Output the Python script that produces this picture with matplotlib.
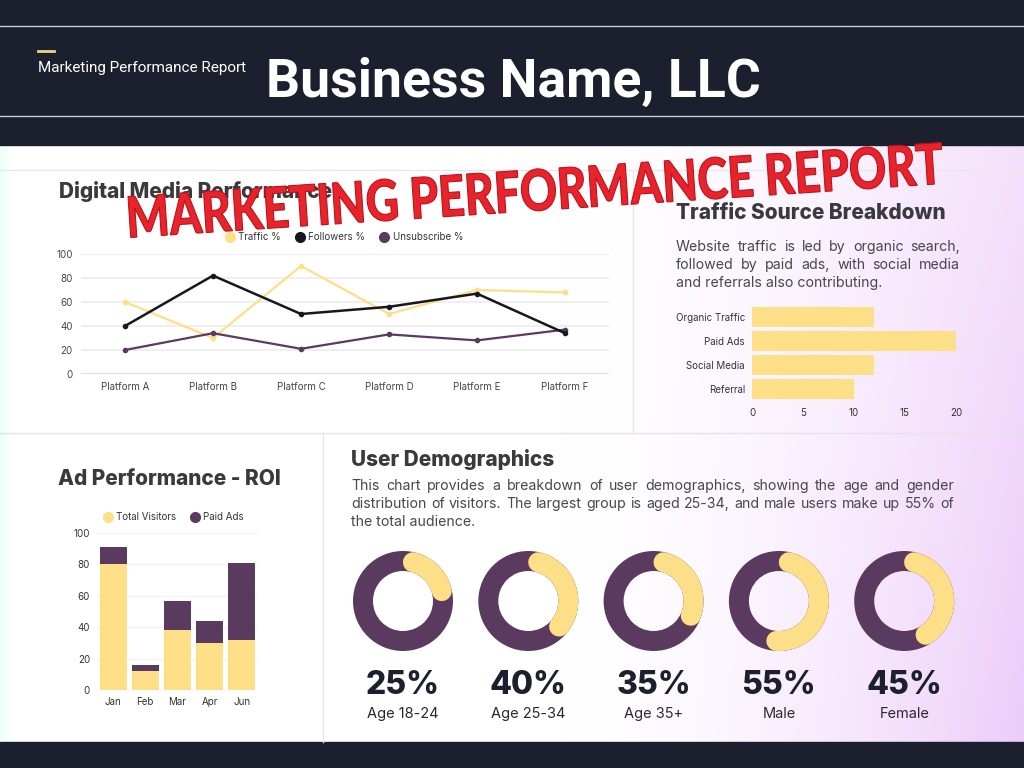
import matplotlib
matplotlib.use('Agg')
import matplotlib.pyplot as plt
from matplotlib.lines import Line2D
from matplotlib.textpath import TextPath
from matplotlib.font_manager import FontProperties
from matplotlib.patches import PathPatch
from matplotlib.transforms import Affine2D
import numpy as np

W, H = 1024, 768

# --- data ---
platforms = ['Platform A', 'Platform B', 'Platform C', 'Platform D', 'Platform E', 'Platform F']
traffic = [60, 30, 90, 50, 70, 68]
followers = [40, 82, 50, 56, 67, 34]
unsubscribe = [20, 34, 21, 33, 28, 37]

sources = ['Organic Traffic', 'Paid Ads', 'Social Media', 'Referral']
source_values = [12, 20, 12, 10]

months = ['Jan', 'Feb', 'Mar', 'Apr', 'Jun']
total_visitors = [80, 12, 38, 30, 32]
paid_ads = [11, 4, 19, 14, 49]

demo_labels = ['Age 18-24', 'Age 25-34', 'Age 35+', 'Male', 'Female']
demo_values = [25, 40, 35, 55, 45]

YELLOW = '#fcdf86'
PURPLE = '#5b3a5f'
NAVY = '#1c1f2d'
BLACK = '#17171f'
TITLE = '#3a3a3e'
TEXT = '#47474c'
FONT = 'Inter'

plt.rcParams['font.family'] = [FONT, 'DejaVu Sans']

fig = plt.figure(figsize=(W / 100, H / 100), dpi=100)


def box(x0, y0, x1, y1):
    return [x0 / W, 1 - y1 / H, (x1 - x0) / W, (y1 - y0) / H]


# background axes in pixel coords
bg = fig.add_axes([0, 0, 1, 1], zorder=-10)
bg.set_xlim(0, W)
bg.set_ylim(H, 0)
bg.axis('off')

# content gradient (white -> lavender on the right)
gx = np.linspace(0, 1, 256)
gy = np.linspace(0, 1, 64)
X, Y = np.meshgrid(gx, gy)
t = np.clip((X - 0.55) / 0.45, 0, 1) ** 1.6 * (0.6 + 0.4 * Y)
lav = np.array([0.93, 0.80, 0.98])
img = np.ones((64, 256, 3)) * (1 - t[..., None]) + lav * t[..., None]
g = np.clip(1 - X / 0.01, 0, 1)[..., None] * 0.45
img = img * (1 - g) + np.array([0.85, 1.0, 0.93]) * g
bg.imshow(img, extent=(0, W, 742, 145), aspect='auto', zorder=0)

# header and bottom band
bg.add_patch(plt.Rectangle((0, 0), W, 145, color=NAVY, zorder=1))
bg.add_patch(plt.Rectangle((0, 742), W, 26, color=NAVY, zorder=1))
bg.plot([0, W], [26, 26], color='#c9ccd4', lw=1, zorder=2)
bg.plot([0, W], [116, 116], color='#c9ccd4', lw=1, zorder=2)
bg.plot([38, 54], [51, 51], color='#e9d38c', lw=2, zorder=2)
bg.text(38, 68, 'Marketing Performance Report', color='white', fontsize=11,
        family='Roboto', va='center', ha='left', zorder=3)
bg.text(266, 82, 'Business Name, LLC', color='white', fontsize=38.5, family='Roboto',
        weight='bold', va='center', ha='left', zorder=3)

# panel dividers
bg.plot([0, W], [170, 170], color='#e8e8ea', lw=1, zorder=2)
bg.plot([0, W], [433, 433], color='#e4e4e6', lw=1, zorder=2)
bg.plot([633, 633], [170, 433], color='#e8e8ea', lw=1, zorder=2)
bg.plot([323, 323], [433, 742], color='#e8e8ea', lw=1, zorder=2)

# titles
for x, y, s in [(59, 192, 'Digital Media Performance'), (676, 213, 'Traffic Source Breakdown'),
                (58, 479, 'Ad Performance - ROI'), (351, 460, 'User Demographics')]:
    bg.text(x, y, s, color=TITLE, fontsize=15, weight=800, va='center', ha='left', zorder=3)

renderer = fig.canvas.get_renderer()


def justify(lines, x0, x1, y, dy, **kw):
    for i, line in enumerate(lines):
        yy = y + i * dy
        if i == len(lines) - 1:
            bg.text(x0, yy, line, va='center', ha='left', zorder=3, **kw)
            continue
        words = line.split()
        ts = [bg.text(0, yy, w, va='center', ha='left', zorder=3, **kw) for w in words]
        widths = [tt.get_window_extent(renderer).width for tt in ts]
        gap = (x1 - x0 - sum(widths)) / (len(words) - 1)
        x = x0
        for tt, w in zip(ts, widths):
            tt.set_x(x)
            x += w + gap


justify(['Website traffic is led by organic search,',
         'followed by paid ads, with social media',
         'and referrals also contributing.'],
        676, 960, 247, 18, fontsize=10.2, color=TEXT)
justify(['This chart provides a breakdown of user demographics, showing the age and gender',
         'distribution of visitors. The largest group is aged 25-34, and male users make up 55% of',
         'the total audience.'],
        351, 954, 486, 18, fontsize=10.2, color=TEXT)

# --- Digital Media Performance line chart ---
ax = fig.add_axes(box(81, 254, 609, 374))
x = np.arange(len(platforms))
ax.plot(x, traffic, color=YELLOW, lw=1.6, marker='o', ms=3, clip_on=False, zorder=3)
ax.plot(x, followers, color=BLACK, lw=1.8, marker='o', ms=3, clip_on=False, zorder=4)
ax.plot(x, unsubscribe, color=PURPLE, lw=1.6, marker='o', ms=3, clip_on=False, zorder=3)
ax.set_xlim(-0.5, len(platforms) - 0.5)
ax.set_ylim(0, 100)
ax.set_yticks(range(0, 101, 20))
ax.set_xticks(x)
ax.set_xticklabels(platforms)
ax.grid(axis='y', color='#efefef', lw=1.5)
ax.set_axisbelow(True)
for s in ax.spines.values():
    s.set_visible(False)
ax.axhline(0, color='#dedede', lw=1.5, zorder=1)
ax.tick_params(length=0, labelsize=7, labelcolor='#444', pad=6)
ax.patch.set_alpha(0)
handles = [Line2D([], [], ls='none', marker='o', ms=7, color=c) for c in (YELLOW, BLACK, PURPLE)]
ax.legend(handles, ['Traffic %', 'Followers %', 'Unsubscribe %'], loc='center',
          bbox_to_anchor=(0.5, 1 + 17 / 120), ncol=3, frameon=False, fontsize=7,
          handlelength=0.7, handletextpad=0.5, columnspacing=1.6, labelcolor='#333')

# --- Traffic Source Breakdown bars ---
ax = fig.add_axes(box(752, 305, 956, 401))
y = np.arange(len(sources))
ax.barh(y, source_values, height=0.86, color=YELLOW, zorder=2)
ax.set_ylim(len(sources) - 0.5, -0.5)
ax.set_xlim(0, 20)
ax.set_yticks(y)
ax.set_yticklabels(sources)
ax.set_xticks(range(0, 21, 5))
ax.grid(axis='x', color='#f0f0f0', lw=1)
ax.set_axisbelow(True)
for s in ax.spines.values():
    s.set_visible(False)
ax.tick_params(length=0, labelsize=7, labelcolor='#333', pad=5)
ax.patch.set_alpha(0)

# --- Ad Performance stacked bars ---
ax = fig.add_axes(box(97, 533, 258, 690))
m = np.arange(len(months))
ax.bar(m, total_visitors, width=0.84, color=YELLOW, zorder=2)
ax.bar(m, paid_ads, bottom=total_visitors, width=0.84, color=PURPLE, zorder=2)
ax.set_xlim(-0.5, len(months) - 0.5)
ax.set_ylim(0, 100)
ax.set_yticks(range(0, 101, 20))
ax.set_xticks(m)
ax.set_xticklabels(months)
ax.grid(axis='y', color='#f3f3f3', lw=1)
ax.set_axisbelow(True)
for s in ax.spines.values():
    s.set_visible(False)
ax.tick_params(length=0, labelsize=7, labelcolor='#333', pad=5)
ax.patch.set_alpha(0)
handles = [Line2D([], [], ls='none', marker='o', ms=7, color=c) for c in (YELLOW, PURPLE)]
ax.legend(handles, ['Total Visitors', 'Paid Ads'], loc='center',
          bbox_to_anchor=(0.48, 1 + 16 / 157), ncol=2, frameon=False, fontsize=7,
          handlelength=0.7, handletextpad=0.5, columnspacing=1.6, labelcolor='#333')

# --- User Demographics donuts ---
for i, (lab, v) in enumerate(zip(demo_labels, demo_values)):
    cx = 403 + i * 125.3
    ax = fig.add_axes(box(cx - 52, 549, cx + 52, 653))
    ax.pie([1], colors=[PURPLE], radius=1, wedgeprops=dict(width=0.4, edgecolor='none'))
    cap = np.degrees(0.2 / 0.8)
    th = np.radians(np.linspace(90 - cap, 90 - 360 * v / 100 + cap, 200))
    ax.plot(0.8 * np.cos(th), 0.8 * np.sin(th), color=YELLOW, lw=14.4,
            solid_capstyle='round', zorder=3)
    ax.set_xlim(-1.04, 1.04)
    ax.set_ylim(-1.04, 1.04)
    ax.set_aspect('equal')
    ax.axis('off')
    bg.text(cx, 685, f'{v}%', fontsize=23, weight=800, color=NAVY,
            ha='center', va='center', zorder=3)
    bg.text(cx, 714, lab, fontsize=10.5, color='#2a2a2e', ha='center', va='center', zorder=3)

# --- stamp overlay ---
top = fig.add_axes([0, 0, 1, 1], zorder=20)
top.set_xlim(0, W)
top.set_ylim(H, 0)
top.axis('off')
top.patch.set_alpha(0)
stamp = 'MARKETING PERFORMANCE REPORT'
tp = TextPath((0, 0), stamp, size=40, prop=FontProperties(family='Lato', weight='black'))
ext = tp.get_extents()
sx = 815 / ext.width
sy = 42 / ext.height
tr = (Affine2D().translate(-(ext.x0 + ext.width / 2), -(ext.y0 + ext.height / 2))
      .scale(sx, -sy).rotate_deg(-3.8).translate(536, 190))
top.add_patch(PathPatch(tr.transform_path(tp), facecolor='#e8232c', edgecolor='#b8141c',
                        lw=0.8, zorder=5))

fig.savefig('out.png', dpi=100)
